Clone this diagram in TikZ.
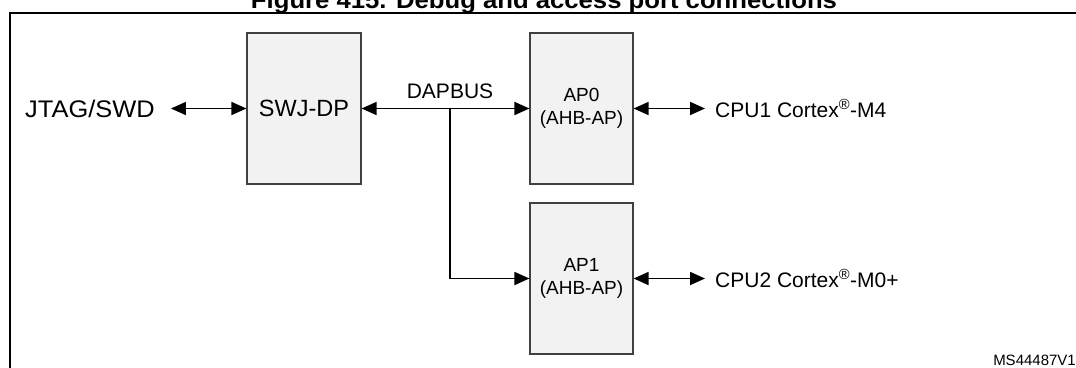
\documentclass[tikz,border=0pt]{standalone}
\usepackage{fontspec}
\setmainfont{Liberation Sans}
\usetikzlibrary{arrows.meta}
\begin{document}
\begin{tikzpicture}[x=1pt,y=-1pt,
  blk/.style={draw=black!75, fill=black!5, line width=1.2pt, inner sep=0pt, align=center},
  conn/.style={line width=1.8pt, {Triangle[length=15pt,width=13pt]}-{Triangle[length=15pt,width=13pt]}},
  oneway/.style={line width=1.8pt, -{Triangle[length=15pt,width=13pt]}},
  lbl/.style={inner sep=0pt, font=\fontsize{21}{25}\selectfont},
  boxtxt/.style={font=\fontsize{19}{23}\selectfont}
]
\useasboundingbox (0,0) rectangle (1076,367);
% title (partly cut off at the top, as in the reference)
\node[inner sep=0pt, anchor=base, font=\bfseries\fontsize{24}{28}\selectfont] (title) at (544,8)
  {\scalebox{1.07}[1]{Figure 415. Debug and access port connections}};
% frame
\draw[line width=1.8pt] (1085,13) -- (10,13) -- (10,375);
% blocks
\node[blk, minimum width=114pt, minimum height=151pt, font=\fontsize{23.5}{27}\selectfont] (swj) at (304,108.5) {SWJ-DP};
\node[blk, boxtxt, minimum width=103pt, minimum height=151pt] (ap0) at (581.5,108.5) {AP0\\(AHB-AP)};
\node[blk, boxtxt, minimum width=103pt, minimum height=151pt] (ap1) at (581.5,278.5) {AP1\\(AHB-AP)};
% labels
\node[inner sep=0pt, anchor=base west, font=\fontsize{24}{28}\selectfont] (jtag) at (25,117) {\scalebox{1.06}[1]{JTAG/SWD}};
\node[lbl, anchor=base] (dap) at (450,98) {DAPBUS};
\node[lbl, anchor=base west] (cpu1) at (715,117) {CPU1 Cortex\textsuperscript{®}-M4};
\node[lbl, anchor=base west] (cpu2) at (715,287) {CPU2 Cortex\textsuperscript{®}-M0+};
\node[inner sep=0pt, anchor=base east, font=\fontsize{15}{18}\selectfont] (id) at (1076,365) {MS44487V1};
% connectors
\coordinate (br) at (450,108.5);
\draw[conn] ([xshift=16pt]jtag.east |- swj.west) -- (swj.west);
\draw[conn] (swj.east) -- (ap0.west);
\draw[oneway] (br) |- (ap1.west);
\draw[conn] (ap0.east) -- ([xshift=-10pt]cpu1.west |- ap0.east);
\draw[conn] (ap1.east) -- ([xshift=-10pt]cpu2.west |- ap1.east);
\end{tikzpicture}
\end{document}
